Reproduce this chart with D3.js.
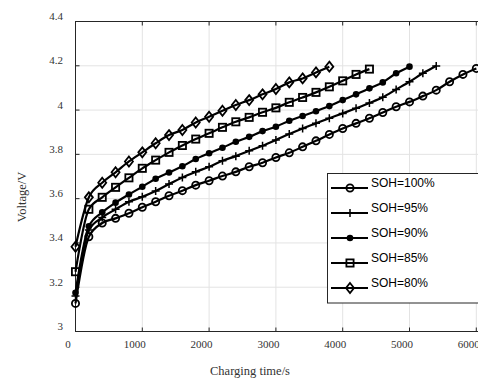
<!DOCTYPE html>
<html>
<head>
<meta charset="utf-8">
<script src="https://cdn.jsdelivr.net/npm/d3@7"></script>
<style>
  body { margin: 0; background: #fff; }
  svg { display: block; }
  .tick-lbl { font-family: "Liberation Serif", "Times New Roman", serif; font-size: 11px; fill: #333; }
  .ax-lbl { font-family: "Liberation Serif", "Times New Roman", serif; font-size: 12.5px; fill: #333; }
  .leg-lbl { font-family: "Liberation Sans", Arial, sans-serif; font-size: 12px; fill: #000; }
</style>
</head>
<body>
<div id="chart"></div>
<script>
// charging time of each marker (s)
var times = [0, 200, 400, 600, 800, 1000, 1200, 1400, 1600, 1800, 2000, 2200, 2400, 2600, 2800,
             3000, 3200, 3400, 3600, 3800, 4000, 4200, 4400, 4600, 4800, 5000, 5200, 5400, 5600, 5800, 6000];

// voltage per SOH
var soh100 = [3.127, 3.428, 3.490, 3.511, 3.534, 3.561, 3.586, 3.613, 3.636, 3.661, 3.681, 3.702, 3.721, 3.744, 3.762,
              3.786, 3.807, 3.834, 3.861, 3.890, 3.917, 3.940, 3.963, 3.989, 4.015, 4.037, 4.063, 4.090, 4.128, 4.161, 4.188];
var soh95 = [3.160, 3.458, 3.515, 3.552, 3.586, 3.608, 3.634, 3.666, 3.696, 3.721, 3.744, 3.771, 3.792, 3.816, 3.839,
             3.865, 3.892, 3.917, 3.940, 3.963, 3.985, 4.008, 4.032, 4.058, 4.093, 4.128, 4.166, 4.199];
var soh90 = [3.175, 3.475, 3.538, 3.582, 3.619, 3.654, 3.690, 3.718, 3.746, 3.779, 3.805, 3.830, 3.857, 3.879, 3.905,
             3.925, 3.952, 3.973, 3.995, 4.018, 4.045, 4.071, 4.098, 4.125, 4.166, 4.196];
var soh85 = [3.270, 3.552, 3.606, 3.651, 3.694, 3.737, 3.774, 3.809, 3.840, 3.869, 3.895, 3.922, 3.947, 3.967, 3.990,
             4.010, 4.035, 4.057, 4.080, 4.105, 4.132, 4.161, 4.185];
var soh80 = [3.383, 3.606, 3.672, 3.719, 3.768, 3.809, 3.850, 3.887, 3.910, 3.944, 3.970, 3.997, 4.023, 4.045, 4.071,
             4.095, 4.125, 4.143, 4.170, 4.196];

var seriesNames = ["SOH=100%", "SOH=95%", "SOH=90%", "SOH=85%", "SOH=80%"];
var seriesVals = [soh100, soh95, soh90, soh85, soh80];
var markerTypes = ["circle", "plus", "dot", "square", "diamond"];

var xTicks = [0, 1000, 2000, 3000, 4000, 5000, 6000, 7000];
var yTicks = [3, 3.2, 3.4, 3.6, 3.8, 4, 4.2, 4.4];

var W = 478, H = 380;
var plotLeft = 75.5, plotTop = 21.5, plotBottom = 331.5;
// plot continues past the right edge of the picture (cropped)
var xScale = d3.scaleLinear().domain([0, 7000]).range([plotLeft, plotLeft + 7 * 66.8]);
var yScale = d3.scaleLinear().domain([3, 4.4]).range([plotBottom, plotTop]);
var plotRight = xScale(7000);

var svg = d3.select("#chart").append("svg")
  .attr("width", W).attr("height", H);

// grid
svg.append("g").selectAll("line").data(xTicks.slice(1)).enter().append("line")
  .attr("x1", d => xScale(d)).attr("x2", d => xScale(d))
  .attr("y1", plotTop).attr("y2", plotBottom)
  .style("stroke", "#e3e3e3").style("stroke-width", 1);
svg.append("g").selectAll("line").data(yTicks.slice(1, -1)).enter().append("line")
  .attr("x1", plotLeft).attr("x2", plotRight)
  .attr("y1", d => yScale(d)).attr("y2", d => yScale(d))
  .style("stroke", "#e3e3e3").style("stroke-width", 1);

// box + inward ticks
svg.append("rect").attr("x", plotLeft).attr("y", plotTop)
  .attr("width", plotRight - plotLeft).attr("height", plotBottom - plotTop)
  .style("fill", "none").style("stroke", "#262626").style("stroke-width", 1);
var tk = svg.append("g").style("stroke", "#262626").style("stroke-width", 1);
xTicks.forEach(function(d) {
  tk.append("line").attr("x1", xScale(d)).attr("x2", xScale(d)).attr("y1", plotBottom).attr("y2", plotBottom - 4);
  tk.append("line").attr("x1", xScale(d)).attr("x2", xScale(d)).attr("y1", plotTop).attr("y2", plotTop + 4);
});
yTicks.forEach(function(d) {
  tk.append("line").attr("x1", plotLeft).attr("x2", plotLeft + 4).attr("y1", yScale(d)).attr("y2", yScale(d));
});

// tick labels
svg.append("g").selectAll("text").data(xTicks).enter().append("text")
  .attr("class", "tick-lbl")
  .attr("x", d => xScale(d) - 7.5).attr("y", 347.5)
  .attr("text-anchor", "middle")
  .text(d => d);
svg.append("g").selectAll("text").data(yTicks).enter().append("text")
  .attr("class", "tick-lbl")
  .attr("x", 63).attr("y", d => yScale(d) - 1.5)
  .attr("text-anchor", "end")
  .text(d => d3.format("~g")(d));

// axis titles
svg.append("text").attr("class", "ax-lbl")
  .attr("x", 250).attr("y", 375).attr("text-anchor", "middle")
  .text("Charging time/s");
svg.append("text").attr("class", "ax-lbl")
  .attr("transform", "translate(22,197) rotate(-90)")
  .attr("text-anchor", "middle").attr("dy", "0.35em")
  .text("Voltage/V");

function drawMarker(g, type, x, y) {
  if (type === "circle") {
    g.append("circle").attr("cx", x).attr("cy", y).attr("r", 3.6)
      .style("fill", "none").style("stroke", "#000").style("stroke-width", 1.8);
  } else if (type === "dot") {
    g.append("circle").attr("cx", x).attr("cy", y).attr("r", 3.3)
      .style("fill", "#000");
  } else if (type === "square") {
    g.append("rect").attr("x", x - 3.6).attr("y", y - 3.6).attr("width", 7.2).attr("height", 7.2)
      .style("fill", "none").style("stroke", "#000").style("stroke-width", 1.8);
  } else if (type === "diamond") {
    g.append("path")
      .attr("d", "M" + x + "," + (y - 5) + "L" + (x + 4) + "," + y + "L" + x + "," + (y + 5) + "L" + (x - 4) + "," + y + "Z")
      .style("fill", "none").style("stroke", "#000").style("stroke-width", 1.8);
  } else if (type === "plus") {
    g.append("path")
      .attr("d", "M" + (x - 4) + "," + y + "H" + (x + 4) + "M" + x + "," + (y - 4) + "V" + (y + 4))
      .style("fill", "none").style("stroke", "#000").style("stroke-width", 1.5);
  }
}

var line = d3.line()
  .x(d => xScale(d[0])).y(d => yScale(d[1]))
  .curve(d3.curveMonotoneX);

seriesVals.forEach(function(vals, i) {
  var pts = vals.map((v, j) => [times[j], v]);
  var g = svg.append("g");
  g.append("path").datum(pts).attr("d", line)
    .style("fill", "none").style("stroke", "#000").style("stroke-width", 2.2);
  pts.forEach(p => drawMarker(g, markerTypes[i], xScale(p[0]), yScale(p[1])));
});

// legend
var leg = svg.append("g");
leg.append("rect").attr("x", 327.5).attr("y", 173.5).attr("width", 200).attr("height", 129.5)
  .style("fill", "#fff").style("stroke", "#262626").style("stroke-width", 1);
seriesNames.forEach(function(name, i) {
  var ly = 188 + i * 25;
  leg.append("line").attr("x1", 331).attr("x2", 368).attr("y1", ly).attr("y2", ly)
    .style("stroke", "#000").style("stroke-width", 2);
  drawMarker(leg, markerTypes[i], 350, ly);
  leg.append("text").attr("class", "leg-lbl").attr("x", 371).attr("y", ly - 1).text(name);
});
</script>
</body>
</html>
